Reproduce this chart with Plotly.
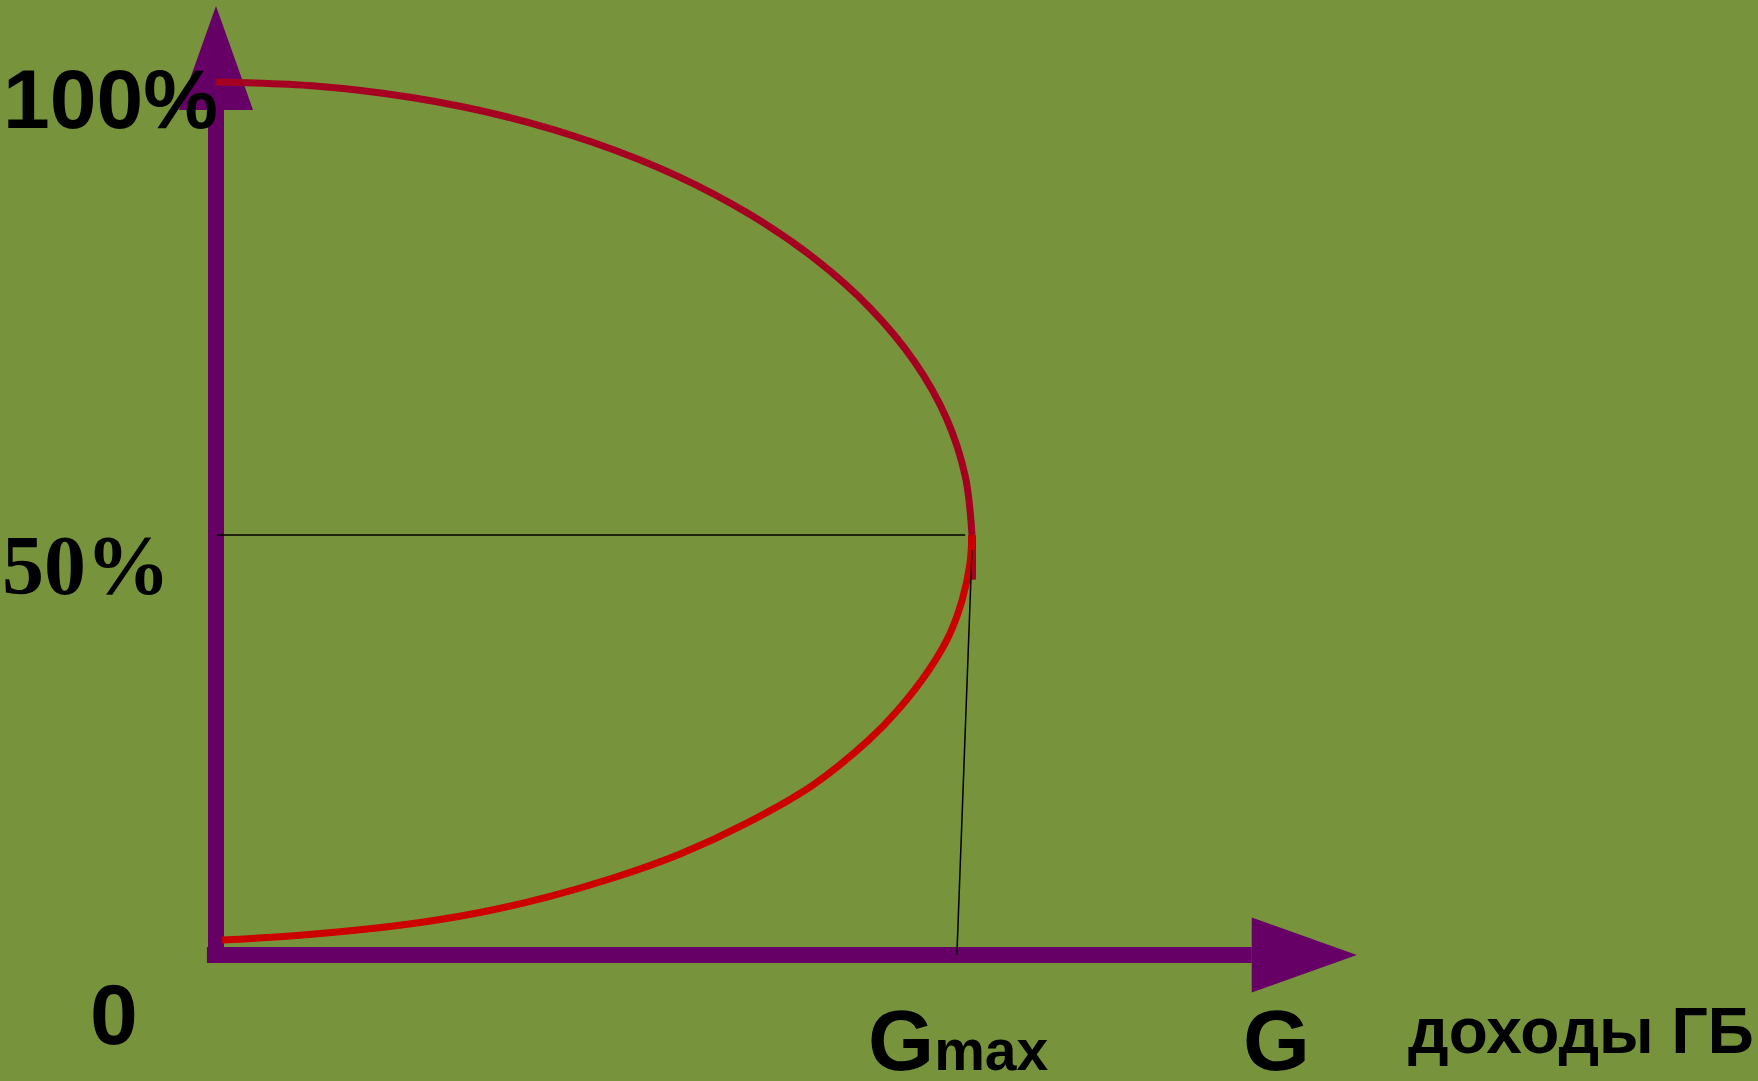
#!/usr/bin/env python

import plotly.graph_objects as go

# share of voters (%) vs budget revenue G, G measured in units of Gmax
top_g = [0.0, 0.131, 0.259, 0.383, 0.500, 0.609, 0.707, 0.793, 0.866, 0.924, 0.966, 0.991, 1.0]
top_share = [100.0, 99.55, 98.23, 96.05, 93.04, 89.27, 84.78, 79.69, 74.03, 67.95, 61.51, 54.86, 48.1]

bottom_g = [1.0, 0.997, 0.987, 0.970, 0.943, 0.902, 0.864, 0.790, 0.702,
            0.614, 0.525, 0.438, 0.349, 0.243, 0.111, 0.008]
bottom_share = [48.1, 44.67, 40.66, 36.66, 32.65, 28.06, 24.67, 19.50, 15.11,
                11.58, 8.82, 6.63, 4.87, 3.40, 2.26, 1.72]

stub_g = [1.0, 1.0]
stub_share = [48.1, 43.0]

gmax = 1.0
peak_share = 48.1
gmax_foot = 0.980
slant_top = 46.4

y_ticks = ["100%", "50%", "0"]
x_ticks = ["G<span style='font-size:57px'>max</span>", "G"]
x_title = "доходы ГБ"

bg = "#77933C"
purple = "#660066"

fig = go.Figure()

fig.add_trace(go.Scatter(x=top_g, y=top_share, mode="lines",
                         line=dict(color="#A50021", width=7, shape="spline", simplify=False),
                         hoverinfo="skip"))
fig.add_trace(go.Scatter(x=stub_g, y=stub_share, mode="lines",
                         line=dict(color="#A50021", width=8),
                         hoverinfo="skip"))
fig.add_trace(go.Scatter(x=bottom_g, y=bottom_share, mode="lines",
                         line=dict(color="#CC0000", width=7, shape="spline", simplify=False),
                         hoverinfo="skip"))

# axes with arrowheads
fig.add_shape(type="line", x0=0, x1=0, y0=-0.92, y1=96.8,
              line=dict(color=purple, width=16), layer="below")
fig.add_shape(type="line", x0=-0.012, x1=1.37, y0=0, y1=0,
              line=dict(color=purple, width=16), layer="below")
fig.add_shape(type="path", path="M -0.049 96.8 L 0 108.7 L 0.049 96.8 Z",
              fillcolor=purple, line=dict(width=0), layer="below")
fig.add_shape(type="path", path="M 1.37 4.3 L 1.509 0 L 1.37 -4.3 Z",
              fillcolor=purple, line=dict(width=0), layer="below")

# guide lines
fig.add_shape(type="line", x0=0.001, x1=gmax - 0.009, y0=peak_share, y1=peak_share,
              line=dict(color="black", width=1.5))
fig.add_shape(type="line", x0=gmax, x1=gmax_foot, y0=slant_top, y1=0,
              line=dict(color="black", width=1.5))

sans = "Arial, Liberation Sans, sans-serif"
serif = "Times New Roman, Liberation Serif, serif"

fig.add_annotation(x=-0.139, y=98.0, text="<b>" + y_ticks[0] + "</b>", showarrow=False,
                   font=dict(family=sans, size=84, color="black"))
fig.add_annotation(x=-0.172, y=44.6, text="<b>" + y_ticks[1] + "</b>", showarrow=False,
                   font=dict(family=serif, size=84, color="black"))
fig.add_annotation(x=-0.135, y=-6.76, text="<b>" + y_ticks[2] + "</b>", showarrow=False,
                   font=dict(family=sans, size=86, color="black"))
fig.add_annotation(x=0.982, y=-9.75, text="<b>" + x_ticks[0] + "</b>", showarrow=False,
                   font=dict(family=sans, size=85, color="black"))
fig.add_annotation(x=1.403, y=-9.7, text="<b>" + x_ticks[1] + "</b>", showarrow=False,
                   font=dict(family=sans, size=86, color="black"))
fig.add_annotation(x=1.806, y=-8.76, text="<b>" + x_title + "</b>", showarrow=False,
                   font=dict(family=sans, size=64, color="black"))

fig.update_layout(
    width=1758,
    height=1081,
    autosize=False,
    margin=dict(l=0, r=0, t=0, b=0),
    paper_bgcolor=bg,
    plot_bgcolor=bg,
    showlegend=False,
    xaxis=dict(visible=False, range=[-0.28571, 2.03968], fixedrange=True),
    yaxis=dict(visible=False, range=[-14.433, 109.393], fixedrange=True),
)

fig.write_html("out.html", config=dict(displayModeBar=False),
               post_script="document.body.style.margin='0';document.body.style.overflow='hidden';")
